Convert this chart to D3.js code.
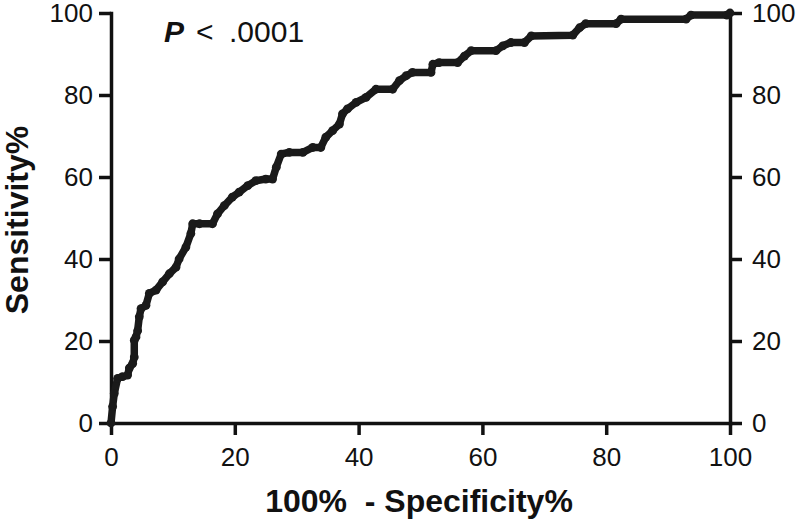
<!DOCTYPE html>
<html>
<head>
<meta charset="utf-8">
<script src="https://cdn.jsdelivr.net/npm/d3@7"></script>
<style>
  body { margin: 0; background: #fff; }
  svg { display: block; font-family: "Liberation Sans", Arial, sans-serif; }
  .axis path, .axis line { stroke: #111; stroke-width: 3.5; }
  .axis text { font-size: 26px; fill: #111; }
</style>
</head>
<body>
<div id="chart"></div>
<script>
// ROC curve points
const specComplement = [0, 0.26, 0.53, 1.07, 1.87, 2.68, 2.96, 3.5, 3.76, 3.76, 4.04, 4.3, 4.57, 4.85, 5.65, 6.19,
  7.27, 8.34, 9.42, 10.5, 11.0, 12.1, 12.9, 13.2, 14.3, 16.4, 17.2, 18.3, 19.6, 20.7, 22.1, 23.4, 25.0, 26.1,
  26.7, 27.5, 28.8, 31.0, 32.6, 33.9, 34.7, 35.8, 36.9, 37.4, 38.2, 39.6, 41.2, 42.8, 45.5, 46.6, 47.7, 48.7,
  51.7, 52.0, 53.0, 56.0, 57.1, 58.2, 62.2, 63.3, 64.6, 66.8, 67.9, 74.6, 75.7, 76.7, 81.6, 82.4, 92.9, 93.7,
  99.5, 100];
const sensitivity = [0, 4.0, 7.2, 10.9, 11.3, 11.7, 13.4, 14.5, 16.1, 20.2, 21.0, 22.5, 25.9, 27.9, 28.7, 31.6,
  32.4, 34.4, 36.4, 38.0, 40.0, 42.9, 46.2, 48.6, 48.6, 48.6, 51.0, 53.0, 55.1, 56.3, 57.9, 59.1, 59.5, 59.5,
  62.4, 65.6, 66.0, 66.0, 67.2, 67.2, 69.7, 71.3, 72.9, 75.4, 76.6, 78.2, 79.4, 81.4, 81.4, 83.5, 84.7, 85.5,
  85.5, 87.5, 87.9, 87.9, 89.5, 90.8, 90.8, 92.0, 92.8, 92.8, 94.4, 94.6, 96.4, 97.4, 97.4, 98.5, 98.5, 99.5,
  99.5, 100];
const tickValues = [0, 20, 40, 60, 80, 100];

const W = 800, H = 520;
const margin = {top: 13, right: 70, bottom: 97, left: 111};

const svg = d3.select("#chart").append("svg")
    .attr("width", W)
    .attr("height", H);

const x = d3.scaleLinear().domain([0, 100]).range([margin.left, W - margin.right]);
const y = d3.scaleLinear().domain([0, 100]).range([H - margin.bottom, margin.top]);

const points = specComplement.map((v, i) => ({x: v, y: sensitivity[i]}));

// axes
svg.append("g")
    .attr("class", "axis")
    .attr("transform", `translate(0,${y(0)})`)
    .call(d3.axisBottom(x).tickValues(tickValues).tickSize(12).tickPadding(13).tickSizeOuter(0));

svg.append("g")
    .attr("class", "axis")
    .attr("transform", `translate(${x(0)},0)`)
    .call(d3.axisLeft(y).tickValues(tickValues).tickSize(12).tickPadding(6).tickSizeOuter(0));

svg.append("g")
    .attr("class", "axis")
    .attr("transform", `translate(${x(100)},0)`)
    .call(d3.axisRight(y).tickValues(tickValues).tickSize(12).tickPadding(10).tickSizeOuter(0));

svg.selectAll(".axis .domain").attr("stroke-linecap", "square");

// curve: thick line with dense markers
const line = d3.line().x(d => x(d.x)).y(d => y(d.y));

svg.append("path")
    .datum(points)
    .attr("fill", "none")
    .attr("stroke", "#1a1a1a")
    .attr("stroke-width", 7.5)
    .attr("stroke-linejoin", "round")
    .attr("stroke-linecap", "round")
    .attr("d", line);

svg.selectAll(".pt")
    .data(points)
    .join("circle")
    .attr("class", "pt")
    .attr("cx", d => x(d.x))
    .attr("cy", d => y(d.y))
    .attr("r", 4.4)
    .attr("fill", "#1a1a1a");

// axis titles
svg.append("text")
    .attr("transform", `translate(28,${(y(0) + y(100)) / 2 + 2}) rotate(-90)`)
    .attr("text-anchor", "middle")
    .attr("font-size", 32)
    .attr("font-weight", "bold")
    .attr("fill", "#111")
    .text("Sensitivity%");

svg.append("text")
    .attr("x", 419)
    .attr("y", 512)
    .attr("text-anchor", "middle")
    .attr("font-size", 32)
    .attr("font-weight", "bold")
    .attr("fill", "#111")
    .style("white-space", "pre")
    .text("100%  - Specificity%");

// p-value note
const note = svg.append("text")
    .attr("y", 42)
    .attr("font-size", 30)
    .attr("fill", "#111");
note.append("tspan").attr("x", 164).attr("font-weight", "bold").attr("font-style", "italic").text("P");
note.append("tspan").attr("x", 196).text("<");
note.append("tspan").attr("x", 229).text(".0001");
</script>
</body>
</html>
